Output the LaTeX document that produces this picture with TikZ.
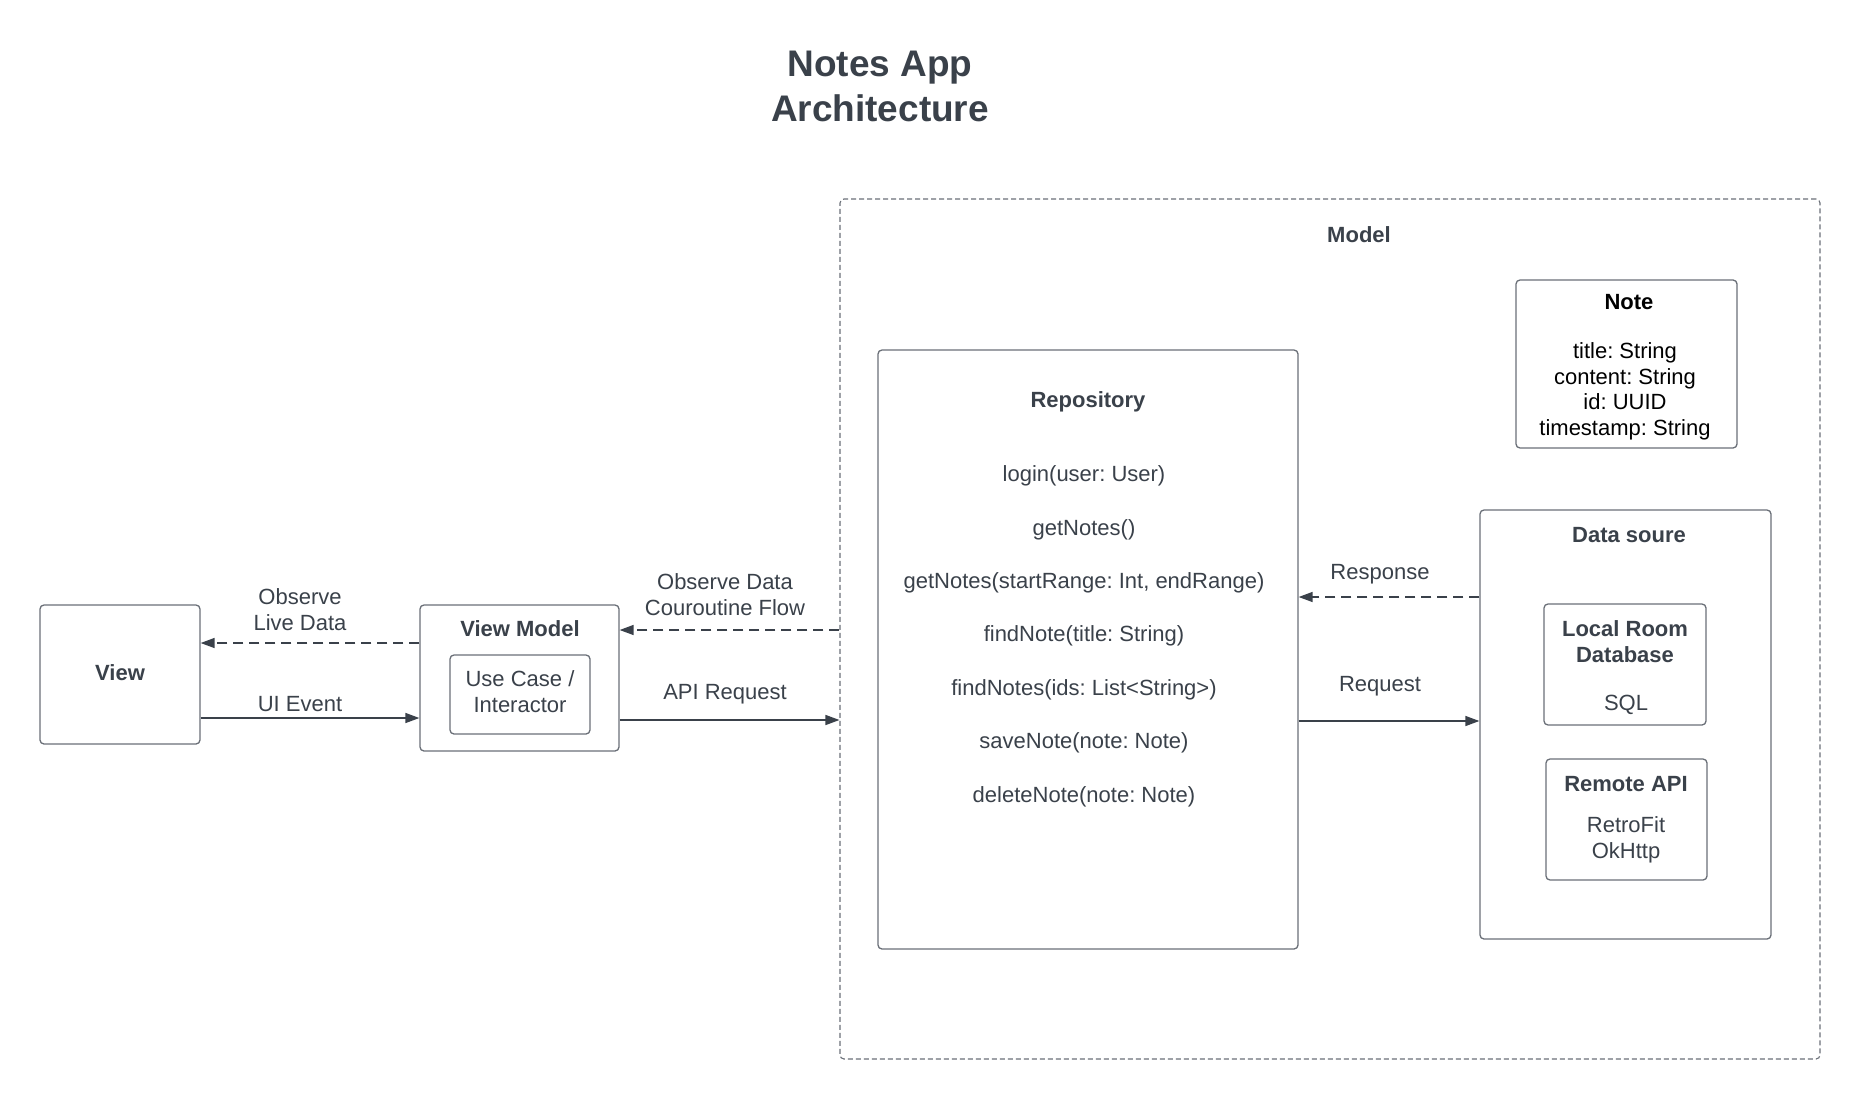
\documentclass[tikz,border=0pt]{standalone}
\usepackage{fontspec}
\setmainfont{Liberation Sans}
\usetikzlibrary{arrows.meta}
\definecolor{ink}{HTML}{3A414A}
\definecolor{edge}{HTML}{6B7078}
\frenchspacing
\begin{document}
\begin{tikzpicture}[x=1pt,y=-1pt,
  font=\fontsize{22}{26}\selectfont, text=ink,
  box/.style={draw=edge,line width=1.3pt,rounded corners=4pt,inner sep=0pt},
  lbl/.style={inner sep=0pt,align=center,yshift=-2.5pt},
  hd/.style={lbl,font=\fontsize{22}{26}\selectfont\bfseries},
  arr/.style={draw=ink,line width=1.4pt,-{Triangle[length=14pt,width=10pt]}},
  dsh/.style={dash pattern=on 10pt off 6pt}
]
\useasboundingbox (0,0) rectangle (1860,1100);
\fill[white] (0,0) rectangle (1860,1100);

% title
\node[lbl,font=\fontsize{37}{45}\selectfont\bfseries] (title) at (880,83.5) {Notes App\\Architecture};

% model container
\node[draw=edge,line width=1.1pt,rounded corners=4pt,dash pattern=on 5pt off 3pt,inner sep=0pt,
      minimum width=980pt,minimum height=860pt] (Model) at (1330,629) {};
\node[hd] (modellbl) at (1359,232) {Model};

% repository
\node[box,minimum width=420pt,minimum height=599pt] (Repo) at (1088,649.5) {};
\node[hd] (repolbl) at (1088,399) {Repository};
\node[lbl] (m1) at (1084,473) {login(user: User)};
\node[lbl] (m2) at (1084,527) {getNotes()};
\node[lbl] (m3) at (1084,580) {getNotes(startRange: Int, endRange)};
\node[lbl] (m4) at (1084,633) {findNote(title: String)};
\node[lbl] (m5) at (1084,687) {findNotes(ids: List<String>)};
\node[lbl] (m6) at (1084,740) {saveNote(note: Note)};
\node[lbl] (m7) at (1084,794) {deleteNote(note: Note)};

% note
\node[box,minimum width=221pt,minimum height=168pt] (Note) at (1626.5,364) {};
\node[hd,text=black] (notelbl) at (1629,300) {Note};
\node[lbl,text=black,font=\fontsize{22}{25.5}\selectfont] (notebody) at (1625,389)
  {title: String\\content: String\\id: UUID\\timestamp: String};

% data source
\node[box,minimum width=291pt,minimum height=429pt] (DS) at (1625.5,724.5) {};
\node[hd] (dslbl) at (1629,533) {Data soure};
\node[box,minimum width=162pt,minimum height=121pt] (Local) at (1625,664.5) {};
\node[hd] (locallbl) at (1625,639) {Local Room\\Database};
\node[lbl] (sql) at (1626,702) {SQL};
\node[box,minimum width=161pt,minimum height=121pt] (Remote) at (1626.5,819.5) {};
\node[hd] (remotelbl) at (1626,782) {Remote API};
\node[lbl] (remotebody) at (1626,837) {RetroFit\\OkHttp};

% view
\node[box,minimum width=160pt,minimum height=139pt] (View) at (120,674.5) {};
\node[hd] (viewlbl) at (120,670) {View};

% view model
\node[box,minimum width=199pt,minimum height=146pt] (VM) at (519.5,678) {};
\node[hd] (vmlbl) at (520,626) {View Model};
\node[box,minimum width=140pt,minimum height=79pt] (UC) at (520,694.5) {};
\node[lbl] (uclbl) at (520,689.5) {Use Case /\\Interactor};

% helper rows
\coordinate (yA) at (0,643);
\coordinate (yB) at (0,718);
\coordinate (yC) at (0,630);
\coordinate (yD) at (0,720);
\coordinate (yE) at (0,597);
\coordinate (yF) at (0,721);

% connectors
\draw[arr,dsh] (VM.west |- yA) -- (View.east |- yA);
\node[lbl] (obslive) at (300,607) {Observe\\Live Data};
\draw[arr] (View.east |- yB) -- (VM.west |- yB);
\node[lbl] (uiev) at (300,702) {UI Event};

\draw[arr,dsh] (Model.west |- yC) -- (VM.east |- yC);
\node[lbl] (obsflow) at (725,592.5) {Observe Data\\Couroutine Flow};
\draw[arr] (VM.east |- yD) -- (Model.west |- yD);
\node[lbl] (apireq) at (725,692) {API Request};

\draw[arr,dsh] (DS.west |- yE) -- (Repo.east |- yE);
\node[lbl] (resp) at (1380,572) {Response};
\draw[arr] (Repo.east |- yF) -- (DS.west |- yF);
\node[lbl] (req) at (1380,684) {Request};
\end{tikzpicture}
\end{document}
